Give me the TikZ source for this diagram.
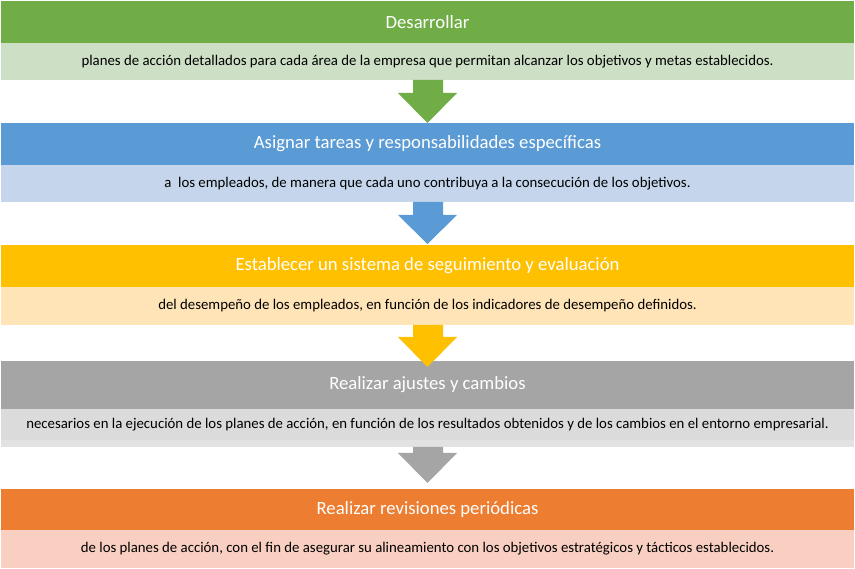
\documentclass[tikz,border=0pt]{standalone}
\usepackage{fontspec}
\setmainfont{Carlito}
\usetikzlibrary{calc}
\definecolor{gH}{HTML}{70AD47}\definecolor{gB}{HTML}{CDDFC5}
\definecolor{bH}{HTML}{5B9BD5}\definecolor{bB}{HTML}{C5D6EC}
\definecolor{yH}{HTML}{FFC000}\definecolor{yB}{HTML}{FFE4B8}
\definecolor{kH}{HTML}{A5A5A5}\definecolor{kB}{HTML}{DBDBDB}\definecolor{kB2}{HTML}{E2E2E2}
\definecolor{oH}{HTML}{ED7D31}\definecolor{oB}{HTML}{F8CFC0}
\tikzset{
  band/.style={rectangle, anchor=north west, inner sep=0pt, outer sep=0pt, minimum width=853pt},
  headbox/.style={band, text=white, font=\fontsize{18.7}{22}\selectfont},
  bodybox/.style={band, text=black, font=\fontsize{14.8}{17}\selectfont}
}
\newcommand{\blockarrow}[4]{% top, headtop, tip, colour
  \fill[#4] (413,#1) -- (443,#1) -- (443,#2) -- (457,#2) -- (427.5,#3) -- (398,#2) -- (413,#2) -- cycle;}
\begin{document}
\begin{tikzpicture}[x=1pt,y=-1pt]
\useasboundingbox (0,0) rectangle (855,569);
\fill[white] (0,0) rectangle (855,569);
% step 1
\node[headbox, fill=gH, minimum height=42pt] (h1) at (1,1) {Desarrollar};
\node[bodybox, fill=gB, minimum height=37pt] (b1) at (1,43) {planes de acción detallados para cada área de la empresa que permitan alcanzar los objetivos y metas establecidos.};
% step 2
\node[headbox, fill=bH, minimum height=42pt] (h2) at (1,123) {Asignar tareas y responsabilidades específicas};
\node[bodybox, fill=bB, minimum height=37pt] (b2) at (1,165) {a\ \ los empleados, de manera que cada uno contribuya a la consecución de los objetivos.};
% step 3
\node[headbox, fill=yH, minimum height=42pt] (h3) at (1,245) {Establecer un sistema de seguimiento y evaluación};
\node[bodybox, fill=yB, minimum height=38pt] (b3) at (1,287) {del desempeño de los empleados, en función de los indicadores de desempeño definidos.};
% step 4
\fill[kB2] (1,440) rectangle (854,447);
\node[headbox, fill=kH, minimum height=48pt] (h4) at (1,361) {Realizar ajustes y cambios};
\node[bodybox, fill=kB, minimum height=31pt] (b4) at (1,409) {necesarios en la ejecución de los planes de acción, en función de los resultados obtenidos y de los cambios en el entorno empresarial.};
% step 5
\node[headbox, fill=oH, minimum height=41pt] (h5) at (1,489) {Realizar revisiones periódicas};
\node[bodybox, fill=oB, minimum height=38pt] (b5) at (1,530) {de los planes de acción, con el fin de asegurar su alineamiento con los objetivos estratégicos y tácticos establecidos.};
% arrows
\blockarrow{80}{93}{123}{gH}
\blockarrow{202}{215}{244}{bH}
\blockarrow{325}{337}{367}{yH}
\blockarrow{447}{453}{483}{kH}
\end{tikzpicture}
\end{document}
